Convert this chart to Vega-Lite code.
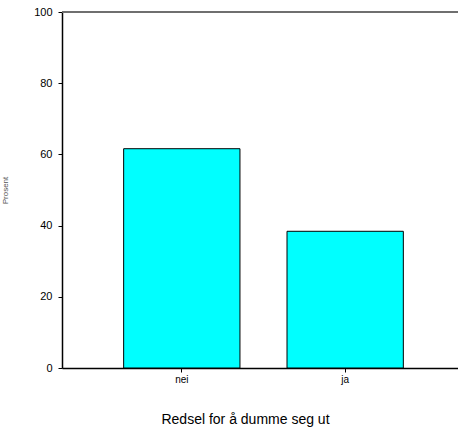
{
  "$schema": "https://vega.github.io/schema/vega-lite/v6.json",
  "width": 396,
  "height": 356,
  "autosize": "none",
  "padding": {"left": 62, "top": 12, "right": 0, "bottom": 61},
  "background": "white",
  "config": {
    "view": {"stroke": null},
    "font": "Liberation Sans"
  },
  "data": {
    "values": [
      {"kategori": "nei", "prosent": 61.6},
      {"kategori": "ja", "prosent": 38.4}
    ]
  },
  "layer": [
    {
      "mark": {"type": "bar", "fill": "#00FFFF", "stroke": "#000000", "strokeWidth": 1},
      "encoding": {
        "x": {
          "field": "kategori",
          "type": "nominal",
          "sort": ["nei", "ja"],
          "scale": {"paddingInner": 0.288, "paddingOuter": 0.356, "align": 0.53},
          "axis": {
            "title": "Redsel for å dumme seg ut",
            "titleFontSize": 14,
            "titleFontWeight": "normal",
            "titleColor": "#000000",
            "titlePadding": 28,
            "titleX": 183,
            "labelAngle": 0,
            "labelFontSize": 10,
            "labelColor": "#000000",
            "labelPadding": 2,
            "tickSize": 4,
            "tickColor": "#000000",
            "domainColor": "#000000",
            "domainWidth": 1.5,
            "grid": false
          }
        },
        "y": {
          "field": "prosent",
          "type": "quantitative",
          "scale": {"domain": [0, 100]},
          "axis": {
            "title": "Prosent",
            "titleFontSize": 8,
            "titleFontWeight": "normal",
            "titleColor": "#555555",
            "titleX": -53,
            "values": [0, 20, 40, 60, 80, 100],
            "labelFontSize": 11,
            "labelColor": "#000000",
            "labelPadding": 6,
            "tickSize": 4,
            "tickColor": "#000000",
            "domainColor": "#000000",
            "domainWidth": 1.5,
            "grid": false
          }
        }
      }
    },
    {
      "mark": {"type": "rule", "color": "#666666", "strokeWidth": 1.5},
      "encoding": {
        "y": {"datum": 100, "type": "quantitative"}
      }
    }
  ]
}
